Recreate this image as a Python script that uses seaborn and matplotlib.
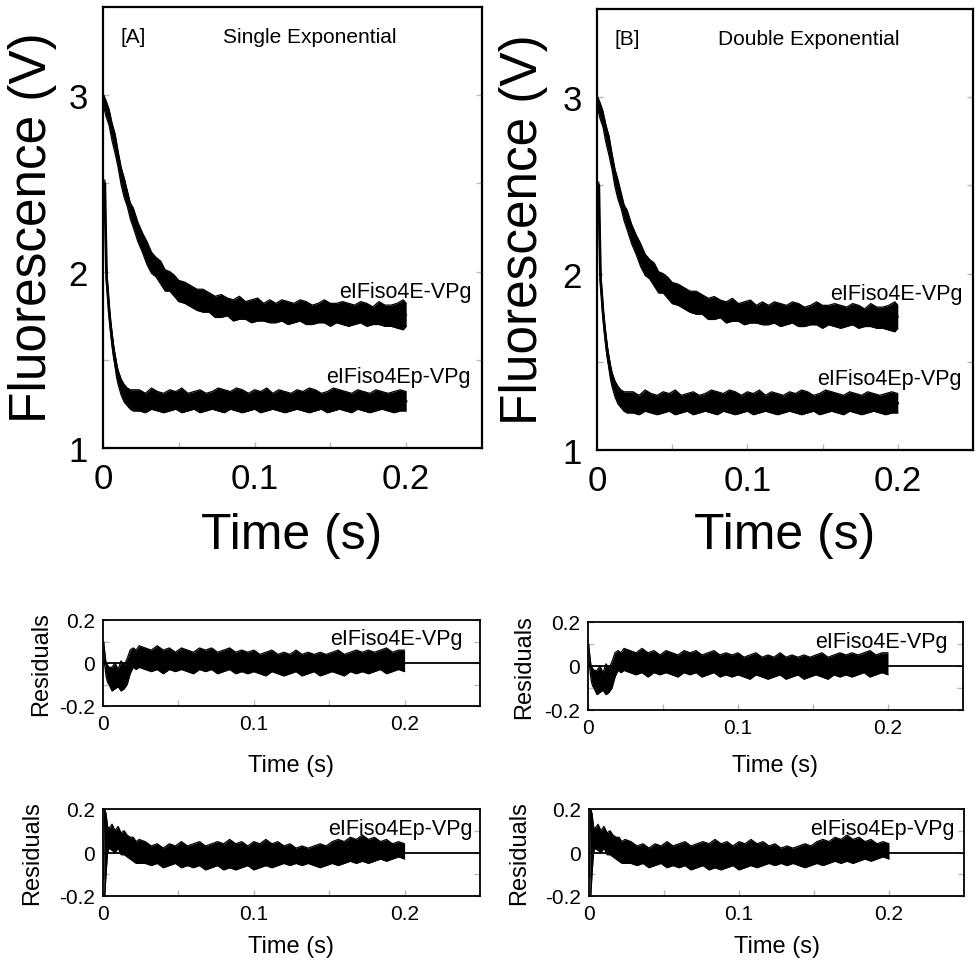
import numpy as np
import matplotlib
matplotlib.use("Agg")
import matplotlib.pyplot as plt
import seaborn as sns

# ---- data (upper / lower edge of each noisy band) ----
t_main = [0.000, 0.002, 0.004, 0.006, 0.008, 0.010, 0.012, 0.014, 0.016, 0.018,
          0.020, 0.023, 0.026, 0.029, 0.032, 0.035, 0.038, 0.041, 0.044, 0.047,
          0.050, 0.054, 0.058, 0.062, 0.066, 0.070, 0.074, 0.078, 0.082, 0.086,
          0.090, 0.094, 0.098, 0.102, 0.106, 0.110, 0.114, 0.118, 0.122, 0.126,
          0.130, 0.134, 0.138, 0.142, 0.146, 0.150, 0.154, 0.158, 0.162, 0.166,
          0.170, 0.174, 0.178, 0.182, 0.186, 0.190, 0.194, 0.198, 0.200]

# eIFiso4E-VPg trace
hi_e = [3.01, 2.97, 2.92, 2.84, 2.78, 2.68, 2.59, 2.53, 2.46, 2.39,
        2.36, 2.28, 2.22, 2.17, 2.11, 2.08, 2.06, 2.01, 2.00, 1.98,
        1.95, 1.94, 1.92, 1.90, 1.90, 1.88, 1.86, 1.87, 1.85, 1.84,
        1.86, 1.83, 1.84, 1.85, 1.82, 1.84, 1.82, 1.84, 1.83, 1.82,
        1.84, 1.83, 1.81, 1.82, 1.84, 1.82, 1.82, 1.83, 1.82, 1.81,
        1.83, 1.82, 1.80, 1.83, 1.81, 1.81, 1.82, 1.84, 1.82]
lo_e = [2.95, 2.88, 2.83, 2.74, 2.67, 2.59, 2.49, 2.42, 2.37, 2.30,
        2.25, 2.17, 2.11, 2.04, 1.99, 1.97, 1.93, 1.89, 1.89, 1.86,
        1.83, 1.82, 1.80, 1.78, 1.77, 1.77, 1.74, 1.74, 1.75, 1.72,
        1.73, 1.73, 1.71, 1.72, 1.72, 1.71, 1.71, 1.72, 1.70, 1.71,
        1.72, 1.70, 1.70, 1.71, 1.71, 1.69, 1.71, 1.70, 1.69, 1.70,
        1.71, 1.69, 1.70, 1.70, 1.69, 1.69, 1.68, 1.67, 1.69]

# eIFiso4Ep-VPg trace
t_low = [0.0012, 0.0018, 0.0024, 0.003, 0.004, 0.005, 0.006, 0.007, 0.008, 0.009,
         0.010, 0.012, 0.014, 0.016, 0.018, 0.020,
         0.024, 0.028, 0.032, 0.036, 0.040, 0.044, 0.048, 0.052, 0.056, 0.060,
         0.064, 0.068, 0.072, 0.076, 0.080, 0.084, 0.088, 0.092, 0.096, 0.100,
         0.104, 0.108, 0.112, 0.116, 0.120, 0.124, 0.128, 0.132, 0.136, 0.140,
         0.144, 0.148, 0.152, 0.156, 0.160, 0.164, 0.168, 0.172, 0.176, 0.180,
         0.184, 0.188, 0.192, 0.196, 0.200]
hi_p = [2.52, 2.23, 1.99, 1.93, 1.81, 1.72, 1.65, 1.58, 1.53, 1.48,
        1.44, 1.39, 1.36, 1.34, 1.33, 1.33,
        1.33, 1.31, 1.34, 1.32, 1.31, 1.33, 1.32, 1.34, 1.31, 1.32,
        1.33, 1.31, 1.32, 1.34, 1.33, 1.32, 1.34, 1.33, 1.31, 1.33,
        1.32, 1.34, 1.31, 1.33, 1.32, 1.31, 1.33, 1.32, 1.34, 1.33,
        1.31, 1.32, 1.34, 1.33, 1.32, 1.31, 1.33, 1.32, 1.31, 1.33,
        1.32, 1.31, 1.32, 1.33, 1.32]
lo_p = [2.48, 2.17, 1.93, 1.87, 1.75, 1.66, 1.58, 1.51, 1.46, 1.40,
        1.36, 1.30, 1.26, 1.24, 1.22, 1.21,
        1.21, 1.20, 1.22, 1.21, 1.20, 1.21, 1.22, 1.20, 1.21, 1.22,
        1.20, 1.21, 1.22, 1.21, 1.20, 1.22, 1.21, 1.20, 1.21, 1.22,
        1.20, 1.21, 1.22, 1.21, 1.20, 1.21, 1.22, 1.21, 1.20, 1.21,
        1.22, 1.20, 1.21, 1.22, 1.21, 1.20, 1.22, 1.21, 1.20, 1.21,
        1.22, 1.21, 1.20, 1.21, 1.21]

# residuals
t_res = [0.0005, 0.001, 0.002, 0.003, 0.004, 0.006, 0.008, 0.010, 0.012, 0.014,
         0.016, 0.018, 0.020, 0.022, 0.024,
         0.028, 0.032, 0.036, 0.040, 0.044, 0.048, 0.052, 0.056, 0.060, 0.064,
         0.068, 0.072, 0.076, 0.080, 0.084, 0.088, 0.092, 0.096, 0.100, 0.104,
         0.108, 0.112, 0.116, 0.120, 0.124, 0.128, 0.132, 0.136, 0.140, 0.144,
         0.148, 0.152, 0.156, 0.160, 0.164, 0.168, 0.172, 0.176, 0.180, 0.184,
         0.188, 0.192, 0.196, 0.200]
res_hi_e = [0.10, 0.06, 0.00, -0.01, -0.02, -0.02, 0.00, -0.03, 0.01, -0.01,
            0.02, 0.06, 0.07, 0.06, 0.08,
            0.07, 0.06, 0.08, 0.06, 0.07, 0.05, 0.07, 0.06, 0.05, 0.07,
            0.06, 0.07, 0.05, 0.06, 0.07, 0.05, 0.06, 0.05, 0.06, 0.04,
            0.05, 0.06, 0.04, 0.05, 0.04, 0.06, 0.04, 0.05, 0.04, 0.05,
            0.04, 0.05, 0.06, 0.04, 0.05, 0.06, 0.05, 0.06, 0.05, 0.06,
            0.07, 0.05, 0.06, 0.06]
res_lo_e = [0.06, 0.00, -0.06, -0.09, -0.10, -0.13, -0.12, -0.11, -0.13, -0.12,
            -0.10, -0.05, -0.02, -0.03, -0.02,
            -0.03, -0.04, -0.03, -0.05, -0.03, -0.04, -0.03, -0.04, -0.05, -0.03,
            -0.04, -0.03, -0.05, -0.04, -0.03, -0.05, -0.04, -0.05, -0.04, -0.05,
            -0.06, -0.04, -0.05, -0.06, -0.05, -0.04, -0.06, -0.05, -0.04, -0.06,
            -0.05, -0.04, -0.05, -0.06, -0.04, -0.05, -0.04, -0.05, -0.04, -0.03,
            -0.05, -0.04, -0.03, -0.04]
res_hi_p = [-0.12, 0.20, 0.18, 0.12, 0.11, 0.13, 0.10, 0.12, 0.09, 0.10,
            0.08, 0.07, 0.07, 0.05, 0.06,
            0.05, 0.03, 0.04, 0.02, 0.04, 0.03, 0.05, 0.03, 0.04, 0.05,
            0.03, 0.04, 0.05, 0.04, 0.06, 0.04, 0.05, 0.03, 0.05, 0.04,
            0.06, 0.04, 0.05, 0.03, 0.04, 0.02, 0.03, 0.02, 0.03, 0.04,
            0.03, 0.05, 0.06, 0.05, 0.07, 0.06, 0.08, 0.06, 0.07, 0.05,
            0.06, 0.04, 0.05, 0.04]
res_lo_p = [-0.25, -0.22, -0.10, 0.00, 0.02, 0.01, 0.00, 0.02, -0.01, -0.01,
            -0.02, -0.03, -0.04, -0.05, -0.05,
            -0.05, -0.06, -0.05, -0.07, -0.06, -0.05, -0.07, -0.06, -0.07, -0.06,
            -0.08, -0.07, -0.06, -0.08, -0.07, -0.08, -0.07, -0.06, -0.08, -0.07,
            -0.06, -0.07, -0.06, -0.05, -0.06, -0.05, -0.06, -0.05, -0.06, -0.07,
            -0.06, -0.05, -0.06, -0.05, -0.04, -0.05, -0.04, -0.05, -0.04, -0.03,
            -0.04, -0.03, -0.02, -0.03]

for a, b, c in [(t_main, hi_e, lo_e), (t_low, hi_p, lo_p),
                (t_res, res_hi_e, res_lo_e), (t_res, res_hi_p, res_lo_p)]:
    assert len(a) == len(b) == len(c), (len(a), len(b), len(c))

x_ticks = [0, 0.1, 0.2]
x_minor = [0.05, 0.15]
y_ticks = [1, 2, 3]
y_minor = [1.5, 2.5]
r_ticks = [-0.2, 0, 0.2]
r_minor = [-0.1, 0.1]

sns.set_theme(style="white")
plt.rcParams["font.family"] = ["Liberation Sans", "DejaVu Sans"]
plt.rcParams["text.color"] = "black"

W, H = 975, 962
fig = plt.figure(figsize=(W / 100, H / 100), dpi=100)


def box(l, t, r, b):
    return [l / W, 1 - b / H, (r - l) / W, (b - t) / H]


def ftext(x, y, s, size, rot=0):
    fig.text(x / W, 1 - y / H, s, ha="center", va="center", rotation=rot,
             fontsize=size, color="black")


def band(ax, t, hi, lo, mid_lw):
    t = np.array(t)
    hi = np.array(hi)
    lo = np.array(lo)
    ax.fill_between(t, lo, hi, color="black", lw=0)
    sns.lineplot(x=t, y=hi, ax=ax, color="black", lw=0.9, estimator=None)
    sns.lineplot(x=t, y=lo, ax=ax, color="black", lw=0.9, estimator=None)
    if mid_lw:
        sns.lineplot(x=t, y=(hi + lo) / 2, ax=ax, color="black", lw=mid_lw,
                     estimator=None)


def frame(ax, lw, size, xpad, ypad):
    for s in ax.spines.values():
        s.set_color("black")
        s.set_linewidth(lw)
    ax.tick_params(which="both", direction="in", length=4, width=1,
                   color="#b8b8b8", left=True, right=True, bottom=True,
                   top=False, labelsize=size, labelcolor="black")
    ax.tick_params(axis="x", pad=xpad)
    ax.tick_params(axis="y", pad=ypad)
    ax.set_xlim(0, 0.25)
    ax.set_xticks(x_ticks)
    ax.set_xticklabels(["0", "0.1", "0.2"])
    ax.set_xticks(x_minor, minor=True)
    ax.set_xlabel("")
    ax.set_ylabel("")


# ---- main panels ----
main_boxes = [box(103, 8, 482, 449), box(597, 10, 973, 451)]
tags = ["[A]", "[B]"]
titles = ["Single Exponential", "Double Exponential"]
title_x = [0.546, 0.564]
for i, rect in enumerate(main_boxes):
    ax = fig.add_axes(rect)
    band(ax, t_main, hi_e, lo_e, 1.5)
    band(ax, t_low, hi_p, lo_p, 2.0)
    frame(ax, 1.6, 25, 10, 11)
    ax.set_ylim(1, 3.5)
    ax.set_yticks(y_ticks)
    ax.set_yticklabels(["1", "2", "3"])
    ax.set_yticks(y_minor, minor=True)
    ax.text(0.046, 0.932, tags[i], transform=ax.transAxes, fontsize=15,
            ha="left", va="center")
    ax.text(title_x[i], 0.932, titles[i], transform=ax.transAxes,
            fontsize=15, ha="center", va="center")
    ax.text(0.973, 0.354, "eIFiso4E-VPg", transform=ax.transAxes,
            fontsize=15.5, ha="right", va="center")
    ax.text(0.971, 0.161, "eIFiso4Ep-VPg", transform=ax.transAxes,
            fontsize=15.5, ha="right", va="center")

ftext(33, 228, "Fluorescence (V)", 37, rot=90)
ftext(523, 230, "Fluorescence (V)", 37, rot=90)
ftext(292, 536, "Time (s)", 36)
ftext(785, 536, "Time (s)", 36)

# ---- residual panels ----
res_panels = [
    (box(103, 621, 480, 707), res_hi_e, res_lo_e, "eIFiso4E-VPg", 0.955, (41, 664), 766),
    (box(103, 810, 480, 897), res_hi_p, res_lo_p, "eIFiso4Ep-VPg", 0.98, (32, 853), 947),
    (box(588, 623, 963, 711), res_hi_e, res_lo_e, "eIFiso4E-VPg", 0.96, (524, 667), 766),
    (box(589, 810, 964, 897), res_hi_p, res_lo_p, "eIFiso4Ep-VPg", 0.976, (519, 853), 947),
]
for rect, hi, lo, name, nx, ylab, ty in res_panels:
    ax = fig.add_axes(rect)
    ax.axhline(0, color="black", lw=1.3)
    band(ax, t_res, hi, lo, 0)
    frame(ax, 1.3, 15, 6, 6)
    ax.set_ylim(-0.2, 0.2)
    ax.set_yticks(r_ticks)
    ax.set_yticklabels(["-0.2", "0", "0.2"])
    ax.set_yticks(r_minor, minor=True)
    ax.text(nx, 0.78, name, transform=ax.transAxes, fontsize=15.5,
            ha="right", va="center")
    ftext(ylab[0], ylab[1], "Residuals", 17, rot=90)
    cx = (rect[0] + rect[2] / 2) * W
    ftext(cx, ty, "Time (s)", 17)

fig.savefig("out.png", dpi=100)
